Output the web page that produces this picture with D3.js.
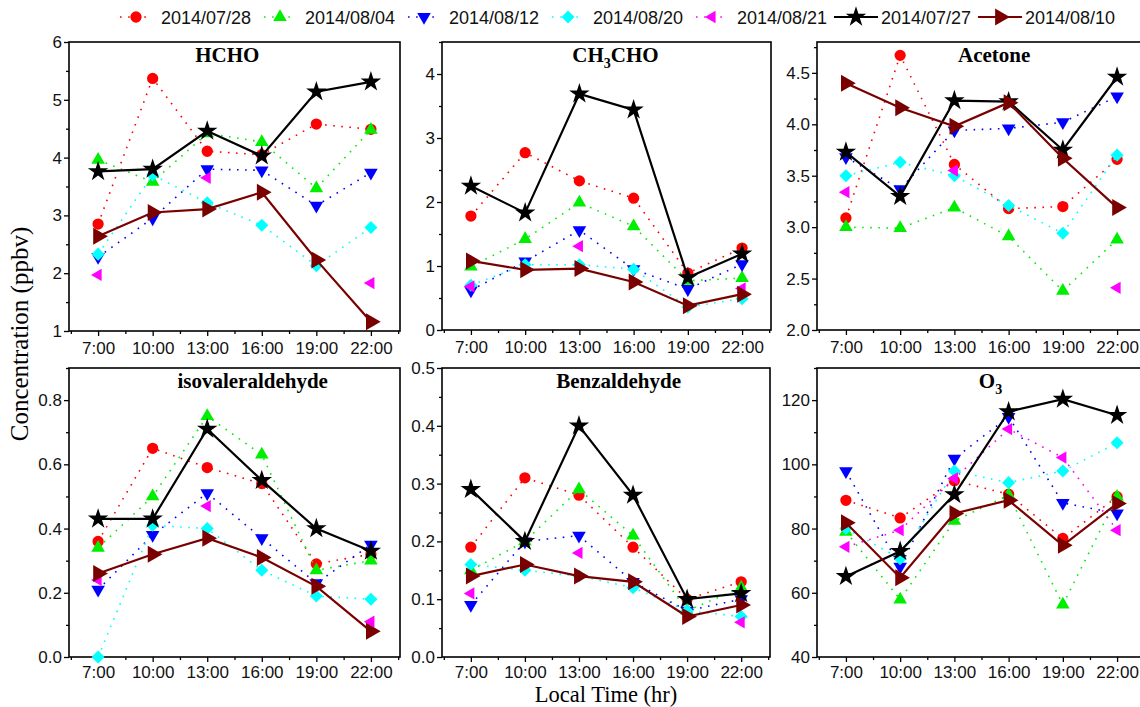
<!DOCTYPE html>
<html>
<head>
<meta charset="utf-8">
<script src="https://cdn.jsdelivr.net/npm/d3@7"></script>
<style>
  body { margin: 0; background: #fff; }
  svg { display: block; }
  .tick text { font-family: 'Liberation Sans', Arial, sans-serif; font-size: 17px; fill: #111; }
</style>
</head>
<body>
<svg id="chart" width="1140" height="707"></svg>
<script>
const hours = [7, 10, 13, 16, 19, 22];
const timeLabels = ['7:00', '10:00', '13:00', '16:00', '19:00', '22:00'];
const dates = ['2014/07/28', '2014/08/04', '2014/08/12', '2014/08/20', '2014/08/21', '2014/07/27', '2014/08/10'];

// rows follow the order of dates
const hcho = [
  [2.85, 5.37, 4.11, 4.05, 4.58, 4.49],
  [3.96, 3.58, 4.42, 4.27, 3.47, 4.48],
  [2.28, 2.95, 3.80, 3.78, 3.17, 3.74],
  [2.33, 3.70, 3.22, 2.83, 2.13, 2.79],
  [1.97, null, 3.65, null, null, 1.83],
  [3.76, 3.80, 4.46, 4.03, 5.14, 5.31],
  [2.64, 3.05, 3.11, 3.40, 2.23, 1.16]
];
const ch3cho = [
  [1.78, 2.77, 2.33, 2.06, 0.89, 1.28],
  [0.99, 1.42, 1.99, 1.62, 0.77, 0.81],
  [0.62, 1.07, 1.56, 0.95, 0.64, 1.03],
  [0.70, 1.02, 1.02, 0.95, 0.36, 0.49],
  [0.68, null, 1.31, null, null, 0.65],
  [2.25, 1.83, 3.69, 3.44, 0.82, 1.19],
  [1.08, 0.94, 0.96, 0.75, 0.38, 0.56]
];
const acetone = [
  [3.09, 4.67, 3.61, 3.18, 3.20, 3.66],
  [3.00, 2.99, 3.19, 2.91, 2.38, 2.88],
  [3.68, 3.37, 3.94, 3.96, 4.02, 4.27],
  [3.50, 3.63, 3.50, 3.21, 2.94, 3.70],
  [3.34, null, 3.55, null, null, 2.41],
  [3.73, 3.30, 4.23, 4.22, 3.75, 4.46],
  [4.40, 4.16, 3.98, 4.21, 3.67, 3.19]
];
const isovaleraldehyde = [
  [0.36, 0.65, 0.59, 0.54, 0.29, 0.32],
  [0.34, 0.50, 0.75, 0.63, 0.27, 0.30],
  [0.21, 0.38, 0.51, 0.37, 0.23, 0.35],
  [0.00, 0.41, 0.40, 0.27, 0.19, 0.18],
  [0.24, null, 0.47, null, null, 0.11],
  [0.43, 0.43, 0.71, 0.55, 0.40, 0.33],
  [0.26, 0.32, 0.37, 0.31, 0.22, 0.08]
];
const benzaldehyde = [
  [0.19, 0.31, 0.28, 0.19, 0.10, 0.13],
  [0.15, 0.20, 0.29, 0.21, 0.08, 0.12],
  [0.09, 0.20, 0.21, 0.13, 0.08, 0.10],
  [0.16, 0.15, 0.14, 0.12, 0.08, 0.07],
  [0.11, null, 0.18, null, null, 0.06],
  [0.29, 0.20, 0.40, 0.28, 0.10, 0.11],
  [0.14, 0.16, 0.14, 0.13, 0.07, 0.09]
];
const o3 = [
  [88.8, 83.3, 94.9, 90.7, 76.9, 89.9],
  [79.0, 57.9, 82.4, 90.4, 56.3, 89.9],
  [97.9, 68.1, 101.8, 114.8, 88.0, 84.7],
  [80.0, 70.6, 97.9, 94.3, 97.9, 106.7],
  [74.3, 79.5, 95.6, 111.0, 102.1, 79.5],
  [65.1, 72.9, 90.6, 116.4, 120.3, 115.3],
  [81.8, 64.7, 84.7, 88.8, 74.8, 87.8]
];

const colors = ['#ff0000', '#00ee00', '#0000ff', '#00ffff', '#ff00ff', '#000000', '#7a0000'];
const solid = [false, false, false, false, false, true, true];

// marker shapes: [d3 symbol, size, rotation]
const markers = [
  [d3.symbolCircle, 100, 0],
  [d3.symbolTriangle, 80, 0],
  [d3.symbolTriangle, 80, 180],
  [d3.symbolSquare, 85, 45],
  [d3.symbolTriangle, 65, -90],
  [d3.symbolStar, 130, 0],
  [d3.symbolTriangle, 125, 90]
];

const panels = [
  { title: ['HCHO'], data: hcho, domain: [1, 6], major: d3.range(1, 6.01, 1), minorStep: 0.5, fmt: d3.format('d'), box: [69, 42, 400, 331], titleAt: 14.1 },
  { title: ['CH', '3', 'CHO'], data: ch3cho, domain: [0, 4.5], major: d3.range(0, 4.01, 1), minorStep: 0.5, fmt: d3.format('d'), box: [442, 42, 771, 330], titleAt: 15.0 },
  { title: ['Acetone'], data: acetone, domain: [2, 4.8], major: d3.range(2, 4.51, 0.5), minorStep: 0.25, fmt: d3.format('.1f'), box: [817, 42, 1146, 330], titleAt: 15.2 },
  { title: ['isovaleraldehyde'], data: isovaleraldehyde, domain: [0, 0.9], major: d3.range(0, 0.81, 0.2), minorStep: 0.1, fmt: d3.format('.1f'), box: [69, 368, 400, 657], titleAt: 15.5 },
  { title: ['Benzaldehyde'], data: benzaldehyde, domain: [0, 0.5], major: d3.range(0, 0.51, 0.1), minorStep: 0.05, fmt: d3.format('.1f'), box: [442, 368, 770, 657], titleAt: 15.2 },
  { title: ['O', '3'], data: o3, domain: [40, 130], major: d3.range(40, 120.1, 20), minorStep: 10, fmt: d3.format('d'), box: [817, 368, 1146, 657], titleAt: 15.0 }
];

const svg = d3.select('#chart');

function symbolPath(i) {
  return d3.symbol().type(markers[i][0]).size(markers[i][1])();
}

function drawMarker(g, i, x, y) {
  g.append('path')
    .attr('d', symbolPath(i))
    .attr('transform', `translate(${x},${y}) rotate(${markers[i][2]})`)
    .attr('fill', colors[i]);
}

panels.forEach((p, pi) => {
  const [x0, y0, x1, y1] = p.box;
  const x = d3.scaleLinear().domain([5.4, 23.6]).range([x0, x1]);
  const y = d3.scaleLinear().domain(p.domain).range([y1, y0]);
  const g = svg.append('g');

  // minor ticks
  const minorY = d3.range(p.domain[0], p.domain[1] + 1e-9, p.minorStep).filter((v) => !p.major.some((m) => Math.abs(m - v) < 1e-9));
  g.append('g')
    .attr('transform', `translate(${x0},0)`)
    .call(d3.axisLeft(y).tickValues(minorY).tickSize(3).tickFormat(''))
    .call((a) => a.select('.domain').remove());
  const minorX = d3.range(5.5, 23.6, 3);
  g.append('g')
    .attr('transform', `translate(0,${y1})`)
    .call(d3.axisBottom(x).tickValues(minorX).tickSize(3).tickFormat(''))
    .call((a) => a.select('.domain').remove());

  // major ticks
  g.append('g')
    .attr('transform', `translate(${x0},0)`)
    .call(d3.axisLeft(y).tickValues(p.major).tickSize(5).tickPadding(2).tickFormat(p.fmt))
    .call((a) => a.select('.domain').remove());
  g.append('g')
    .attr('transform', `translate(0,${y1})`)
    .call(d3.axisBottom(x).tickValues(hours).tickSize(5).tickPadding(pi < 3 ? 6 : 4).tickFormat((d, i) => timeLabels[i]))
    .call((a) => a.select('.domain').remove());
  g.selectAll('.tick line').attr('stroke', '#000').attr('stroke-width', 1.3);

  // frame
  g.append('rect')
    .attr('x', x0).attr('y', y0)
    .attr('width', x1 - x0).attr('height', y1 - y0)
    .attr('fill', 'none').attr('stroke', '#000').attr('stroke-width', 1.6);

  // series
  p.data.forEach((vals, i) => {
    const pts = vals.map((v, j) => ({ h: hours[j], v }));
    const line = d3.line().defined((d) => d.v != null).x((d) => x(d.h)).y((d) => y(d.v));
    g.append('path')
      .datum(pts)
      .attr('d', line)
      .attr('fill', 'none')
      .attr('stroke', colors[i])
      .attr('stroke-width', solid[i] ? 2.2 : 1.6)
      .attr('stroke-dasharray', solid[i] ? null : '1.6,6.5');
    pts.filter((d) => d.v != null).forEach((d) => drawMarker(g, i, x(d.h), y(d.v)));
  });

  // title
  const t = g.append('text')
    .attr('x', x(p.titleAt))
    .attr('y', y0 + 20)
    .attr('text-anchor', 'middle')
    .attr('font-family', "'Liberation Serif', 'Times New Roman', serif")
    .attr('font-weight', 'bold')
    .attr('font-size', 21);
  p.title.forEach((part, k) => {
    const sub = k % 2 === 1;
    t.append('tspan')
      .attr('font-size', sub ? 14 : 21)
      .attr('dy', sub ? 6 : (k > 0 ? -6 : 0))
      .text(part);
  });
});

// axis labels
svg.append('text')
  .attr('transform', 'translate(28,334) rotate(-90)')
  .attr('text-anchor', 'middle')
  .attr('font-family', "'Liberation Serif', 'Times New Roman', serif")
  .attr('font-size', 25)
  .text('Concentration (ppbv)');

svg.append('text')
  .attr('x', 606)
  .attr('y', 702)
  .attr('text-anchor', 'middle')
  .attr('font-family', "'Liberation Serif', 'Times New Roman', serif")
  .attr('font-size', 22.5)
  .text('Local Time (hr)');

// legend
const legend = svg.append('g');
dates.forEach((d, i) => {
  const cx = 136 + 144 * i;
  const cy = 17;
  const half = solid[i] ? 22 : 16;
  legend.append('line')
    .attr('x1', cx - half).attr('x2', cx + half)
    .attr('y1', cy).attr('y2', cy)
    .attr('stroke', colors[i])
    .attr('stroke-width', solid[i] ? 2.2 : 1.6)
    .attr('stroke-dasharray', solid[i] ? null : '1.6,6.5');
  drawMarker(legend, i, cx, cy);
  legend.append('text')
    .attr('x', cx + 25)
    .attr('y', cy + 6.5)
    .attr('font-family', "'Liberation Sans', Arial, sans-serif")
    .attr('font-size', 18)
    .attr('fill', '#111')
    .text(d);
});
</script>
</body>
</html>
